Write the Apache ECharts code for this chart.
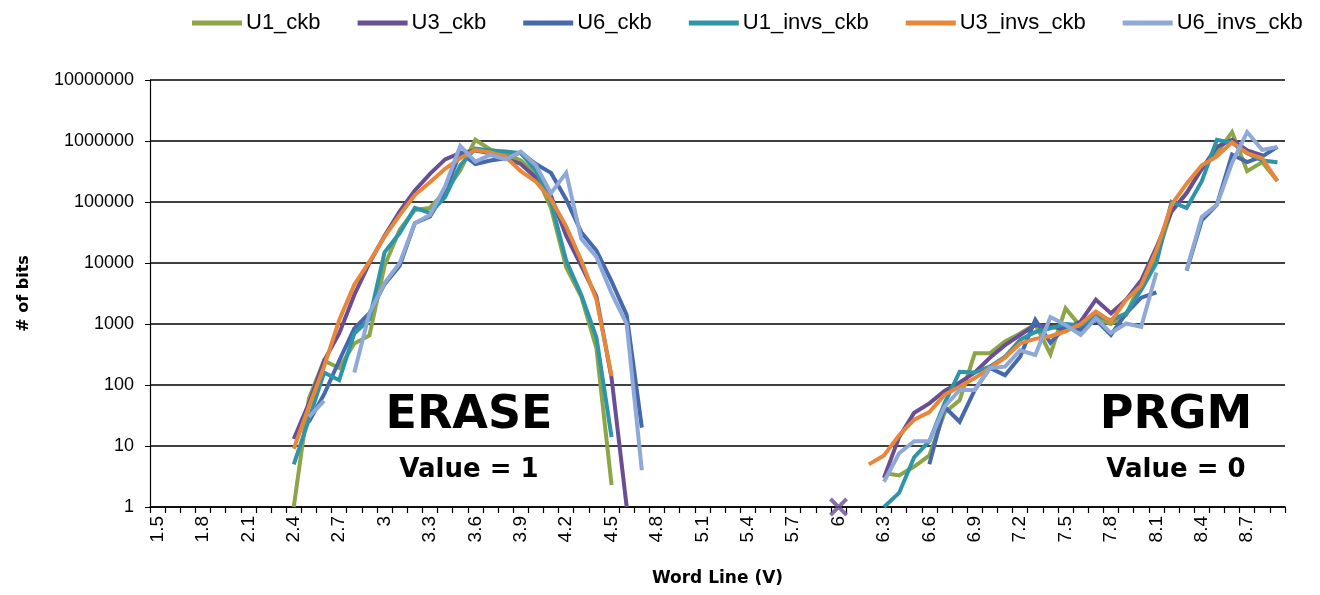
<!DOCTYPE html>
<html>
<head>
<meta charset="utf-8">
<script src="https://cdn.jsdelivr.net/npm/echarts@6/dist/echarts.min.js"></script>
<style>
html,body{margin:0;padding:0;background:#fff;}
#chart{width:1320px;height:595px;}
</style>
</head>
<body>
<div id="chart"></div>
<script>
// ---- categories (Word Line, V) ----
const categories = ['1.5','1.6','1.7','1.8','1.9',
  '2','2.1','2.2','2.3','2.4','2.5','2.6','2.7','2.8','2.9',
  '3','3.1','3.2','3.3','3.4','3.5','3.6','3.7','3.8','3.9',
  '4','4.1','4.2','4.3','4.4','4.5','4.6','4.7','4.8','4.9',
  '5','5.1','5.2','5.3','5.4','5.5','5.6','5.7','5.8','5.9',
  '6','6.1','6.2','6.3','6.4','6.5','6.6','6.7','6.8','6.9',
  '7','7.1','7.2','7.3','7.4','7.5','7.6','7.7','7.8','7.9',
  '8','8.1','8.2','8.3','8.4','8.5','8.6','8.7','8.8','8.9'];

const yTickLabels = ['1','10','100','1000','10000','100000','1000000','10000000'];

const seriesNames = ['U1_ckb','U3_ckb','U6_ckb','U1_invs_ckb','U3_invs_ckb','U6_invs_ckb'];
const seriesColors = ['#8BA548','#6A4E94','#4569AC','#2E95A8','#E8863A','#8EA9D8'];

// ERASE segment: values from 2.4 V to 4.7 V
const eraseStart = '2.4';
const u1Erase  = [1, 60, 250, 190, 480, 650, 9000, 35000, 74000, 80000, 150000, 330000, 1050000, 720000, 620000, 480000, 280000, 80000, 8500, 2800, 400, 2.3, null, null];
const u3Erase  = [13, 50, 250, 700, 3000, 10000, 28000, 70000, 155000, 290000, 500000, 640000, 700000, 630000, 520000, 420000, 250000, 125000, 28000, 9000, 2800, 130, 1, null];
const u6Erase  = [null, 25, 70, 250, 850, 1500, 4500, 9000, 45000, 58000, 150000, 650000, 420000, 480000, 520000, 650000, 420000, 300000, 110000, 32000, 16000, 5000, 1400, 20];
const u1iErase = [5, 27, 160, 120, 700, 1200, 15000, 31000, 80000, 66000, 120000, 400000, 750000, 700000, 670000, 630000, 330000, 100000, 11000, 3000, 600, 14, null, null];
const u3iErase = [9, 44, 200, 1150, 4400, 10500, 27000, 61000, 130000, 210000, 350000, 520000, 710000, 650000, 550000, 320000, 215000, 110000, 40000, 11000, 2500, 140, null, null];
const u6iErase = [null, 30, 55, null, 160, 1500, 4700, 10000, 45000, 61000, 180000, 830000, 460000, 590000, 500000, 670000, 400000, 140000, 300000, 25000, 12600, 3200, 1000, 4];

// PRGM segment: values from 6.2 V to 8.9 V
const prgmStart = '6.2';
const u1Prgm  = [null, 3.6, 3.3, 4.6, 7, 35, 56, 330, 330, 520, 700, 1000, 320, 1800, 900, 1250, 1000, 1400, 5000, 12600, 70000, 140000, 350000, 630000, 1400000, 320000, 450000, 220000];
const u3Prgm  = [null, 3, 14, 35, 50, 80, 110, 160, 280, 450, 660, 960, 900, 830, 1100, 2500, 1500, 2500, 5200, 18000, 70000, 140000, 350000, 800000, 1050000, 700000, 580000, null];
const u6Prgm  = [null, null, null, null, 5, 44, 25, 83, 190, 145, 290, 1170, 490, 900, 800, 1170, 660, 1500, 2700, 3300, null, 7500, 50000, 90000, 600000, 450000, 560000, 800000];
const u1iPrgm = [null, 1, 1.7, 6.6, 12, 50, 165, 160, 200, 290, 550, 740, 850, 1000, 950, 1400, 1150, 1500, 3600, 10000, 100000, 80000, 220000, 1050000, 930000, 630000, 480000, 450000];
const u3iPrgm = [5, 7, 15, 27, 36, 69, 94, 130, 190, 280, 480, 570, 630, 760, 1000, 1600, 1100, 2500, 4300, 16000, 90000, 200000, 400000, 560000, 950000, 630000, 520000, 220000];
const u6iPrgm = [null, 2.6, 7.6, 12, 12, 44, 83, 83, 190, 200, 370, 310, 1300, 960, 660, 1250, 710, 1020, 900, 7000, null, 7700, 57000, 90000, 440000, 1400000, 710000, 800000];

// isolated U3_ckb point drawn as a cross
const u3MarkerCats = ['6'];
const u3MarkerVals = [1];

const eraseSets = [u1Erase, u3Erase, u6Erase, u1iErase, u3iErase, u6iErase];
const prgmSets  = [u1Prgm, u3Prgm, u6Prgm, u1iPrgm, u3iPrgm, u6iPrgm];

function buildFull(erase, prgm) {
  const full = categories.map(() => null);
  const e0 = categories.indexOf(eraseStart);
  const p0 = categories.indexOf(prgmStart);
  erase.forEach((v, k) => { full[e0 + k] = v; });
  prgm.forEach((v, k) => { full[p0 + k] = v; });
  return full;
}

const chart = echarts.init(document.getElementById('chart'), null, {renderer: 'canvas'});

const lineSeries = seriesNames.map((name, s) => ({
  name: name,
  type: 'line',
  data: buildFull(eraseSets[s], prgmSets[s]),
  showSymbol: false,
  symbol: 'none',
  connectNulls: false,
  color: seriesColors[s],
  lineStyle: {width: 4, color: seriesColors[s], join: 'miter'},
  emphasis: {disabled: true},
  animation: false
}));

const crossPath = 'path://M0,1.5 L1.5,0 L5,3.5 L8.5,0 L10,1.5 L6.5,5 L10,8.5 L8.5,10 L5,6.5 L1.5,10 L0,8.5 L3.5,5 Z';

const markerSeries = {
  name: 'U3_ckb',
  type: 'scatter',
  data: u3MarkerCats.map((c, k) => [categories.indexOf(c), u3MarkerVals[k]]),
  symbol: crossPath,
  symbolSize: 19,
  itemStyle: {color: seriesColors[1]},
  clip: false,
  z: 5,
  animation: false
};

const boldFont = '"DejaVu Sans", "Liberation Sans", sans-serif';
const tickFont = '"Liberation Sans", Arial, sans-serif';

chart.setOption({
  animation: false,
  backgroundColor: '#fff',
  color: seriesColors,
  legend: {
    data: seriesNames,
    left: 187,
    top: 7,
    icon: 'rect',
    itemWidth: 50,
    itemHeight: 5,
    itemGap: 37,
    textStyle: {fontFamily: tickFont, fontSize: 22, color: '#000', padding: [0, 0, 0, -1]}
  },
  grid: {left: 150, right: 35, top: 80, bottom: 88, containLabel: false, outerBoundsMode: 'none'},
  xAxis: {
    type: 'category',
    data: categories,
    boundaryGap: true,
    name: 'Word Line (V)',
    nameLocation: 'middle',
    nameGap: 63,
    nameTextStyle: {fontFamily: boldFont, fontWeight: 'bold', fontSize: 17, color: '#000'},
    axisLine: {show: true, lineStyle: {color: '#000', width: 1.5}},
    axisTick: {show: true, interval: 0, length: 6, lineStyle: {color: '#000', width: 1.2}},
    axisLabel: {interval: 2, rotate: 90, fontFamily: tickFont, fontSize: 19, color: '#000', margin: 9},
    splitLine: {show: false}
  },
  yAxis: {
    type: 'log',
    logBase: 10,
    min: 1,
    max: 10000000,
    splitNumber: 7,
    name: '# of bits',
    nameLocation: 'middle',
    nameGap: 118,
    nameRotate: 90,
    nameTextStyle: {fontFamily: boldFont, fontWeight: 'bold', fontSize: 16, color: '#000'},
    axisLine: {show: true, lineStyle: {color: '#000', width: 1.2}},
    axisTick: {show: true, length: 5, lineStyle: {color: '#000'}},
    axisLabel: {
      fontFamily: tickFont, fontSize: 18, color: '#000', margin: 16,
      formatter: function (v) { return yTickLabels[Math.round(Math.log10(v))]; }
    },
    splitLine: {show: true, lineStyle: {color: '#000', width: 1.6}}
  },
  graphic: [
    {type: 'text', x: 469, y: 416, z: 100, style: {text: 'ERASE', fontFamily: boldFont, fontWeight: 'bold', fontSize: 46, fill: '#000', align: 'center', verticalAlign: 'middle'}},
    {type: 'text', x: 469, y: 470, z: 100, style: {text: 'Value = 1', fontFamily: boldFont, fontWeight: 'bold', fontSize: 26, fill: '#000', align: 'center', verticalAlign: 'middle'}},
    {type: 'text', x: 1176, y: 416, z: 100, style: {text: 'PRGM', fontFamily: boldFont, fontWeight: 'bold', fontSize: 46, fill: '#000', align: 'center', verticalAlign: 'middle'}},
    {type: 'text', x: 1176, y: 470, z: 100, style: {text: 'Value = 0', fontFamily: boldFont, fontWeight: 'bold', fontSize: 26, fill: '#000', align: 'center', verticalAlign: 'middle'}}
  ],
  series: lineSeries.concat([markerSeries])
});
</script>
</body>
</html>
